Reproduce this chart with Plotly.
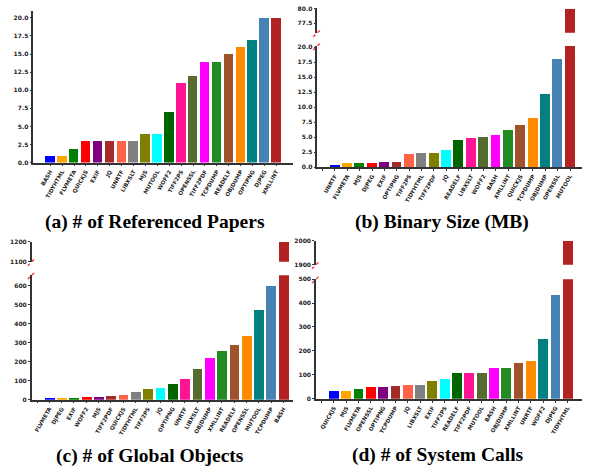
import plotly.graph_objects as go

# ---------------- data ----------------
colors = ["#0000FF", "#FFA500", "#008000", "#FF0000", "#800080", "#A52A2A",
          "#FF6347", "#808080", "#808000", "#00FFFF", "#006400", "#FF1493",
          "#556B2F", "#FF00FF", "#228B22", "#A0522D", "#FF8C00", "#008080",
          "#4682B4", "#B22222"]

names_a = ["BASH", "TIDYHTML", "FLVMETA", "QUICKJS", "EXIF", "JQ", "UNRTF", "LIBXSLT",
           "MJS", "MUTOOL", "WOFF2", "TIFF2PS", "OPENSSL", "TIFF2PDF", "TCPDUMP",
           "READELF", "OBJDUMP", "OPTIPNG", "DJPEG", "XMLLINT"]
vals_a = [1, 1, 2, 3, 3, 3, 3, 3, 4, 4, 7, 11, 12, 14, 14, 15, 16, 17, 20, 20]

names_b = ["UNRTF", "FLVMETA", "MJS", "DJPEG", "EXIF", "OPTIPNG", "TIFF2PS", "TIDYHTML",
           "TIFF2PDF", "JQ", "READELF", "LIBXSLT", "WOFF2", "BASH", "XMLLINT", "QUICKJS",
           "TCPDUMP", "OBJDUMP", "OPENSSL", "MUTOOL"]
vals_b = [0.4, 0.7, 0.7, 0.7, 0.9, 0.9, 2.1, 2.4, 2.4, 2.9, 4.5, 4.8, 5.0, 5.3, 6.2,
          7.0, 8.2, 12.1, 18.0, 80.0]

names_c = ["FLVMETA", "DJPEG", "EXIF", "WOFF2", "MJS", "TIFF2PDF", "QUICKJS", "TIDYHTML",
           "TIFF2PS", "JQ", "OPTIPNG", "UNRTF", "LIBXSLT", "OBJDUMP", "XMLLINT", "READELF",
           "OPENSSL", "MUTOOL", "TCPDUMP", "BASH"]
vals_c = [8, 8, 8, 12, 12, 18, 24, 40, 55, 60, 80, 106, 163, 220, 256, 287, 333, 472,
          596, 1200]

names_d = ["QUICKJS", "MJS", "FLVMETA", "OPENSSL", "OPTIPNG", "TCPDUMP", "JQ", "LIBXSLT",
           "EXIF", "TIFF2PS", "READELF", "TIFF2PDF", "MUTOOL", "BASH", "OBJDUMP", "XMLLINT",
           "UNRTF", "WOFF2", "DJPEG", "TIDYHTML"]
vals_d = [31, 31, 39, 47, 47, 51, 56, 56, 72, 80, 105, 105, 105, 126, 130, 147, 158,
          250, 435, 2000]

titles = ["(a) # of Referenced Papers", "(b) Binary Size (MB)",
          "(c) # of Global Objects", "(d) # of System Calls"]

yt_a = [0, 2.5, 5, 7.5, 10, 12.5, 15, 17.5, 20]
yt_b_low = [0, 2.5, 5, 7.5, 10, 12.5, 15, 17.5, 20]
yt_b_up = [77.5, 80]
yt_c_low = [0, 100, 200, 300, 400, 500, 600]
yt_c_up = [1100, 1200]
yt_d_low = [0, 100, 200, 300, 400, 500]
yt_d_up = [1900, 2000]

# ---------------- layout helpers ----------------
W, H = 590, 472
def dx(p): return p / W
def dy(p): return 1 - p / H

AX = "#333333"
ytickfont = dict(family="DejaVu Sans", size=6, color="#222222", weight="bold")
xtickfont = dict(family="DejaVu Sans", size=5.5, color="#222222", weight="bold")

fig = go.Figure()
pos = list(range(20))

def add_bars(vals, names, xa, ya):
    fig.add_trace(go.Bar(x=pos, y=vals, width=0.8, marker=dict(color=colors, line=dict(width=0)),
                         xaxis=xa, yaxis=ya, showlegend=False, hovertext=names))

def xaxis_def(domain, rng, anchor, names, extra):
    tv = ([-1] if extra else []) + pos
    tt = ([""] if extra else []) + names
    return dict(domain=domain, range=rng, anchor=anchor, tickmode="array", tickvals=tv,
                ticktext=tt, tickangle=-60, showline=True, linecolor=AX, linewidth=1.5,
                ticks="outside", ticklen=2, tickcolor=AX, tickfont=xtickfont,
                showgrid=False, zeroline=False, fixedrange=True)

def yaxis_def(domain, rng, anchor, tv, fmt):
    return dict(domain=domain, range=rng, anchor=anchor, tickmode="array", tickvals=tv,
                ticktext=[fmt.format(v) for v in tv], showline=True, linecolor=AX,
                linewidth=1.5, ticks="outside", ticklen=2, tickcolor=AX, tickfont=ytickfont,
                showgrid=False, zeroline=False, fixedrange=True)

# panel a
add_bars(vals_a, names_a, "x", "y")
# panel b (lower y2, upper y3 on x2)
add_bars(vals_b, names_b, "x2", "y2")
add_bars(vals_b, names_b, "x2", "y3")
# panel c
add_bars(vals_c, names_c, "x3", "y4")
add_bars(vals_c, names_c, "x3", "y5")
# panel d
add_bars(vals_d, names_d, "x4", "y6")
add_bars(vals_d, names_d, "x4", "y7")

layout = dict(
    width=W, height=H, margin=dict(l=0, r=0, t=0, b=0),
    paper_bgcolor="white", plot_bgcolor="white", bargap=0,
    xaxis=xaxis_def([dx(33.3), dx(293)], [-1.42, 20.4], "y", names_a, False),
    yaxis=yaxis_def([dy(161), dy(6.7)], [0, 21], "x", yt_a, "{:.1f}"),
    xaxis2=xaxis_def([dx(317.3), dx(582)], [-1.43, 19.97], "y2", names_b, True),
    yaxis2=yaxis_def([dy(165.5), dy(42.7)], [0, 20.16], "x2", yt_b_low, "{:.1f}"),
    yaxis3=yaxis_def([dy(29.3), dy(4.3)], [75.76, 80.12], "x2", yt_b_up, "{:.1f}"),
    xaxis3=xaxis_def([dx(31.7), dx(293.3)], [-1.43, 19.8], "y4", names_c, True),
    yaxis4=yaxis_def([dy(401.7), dy(275.3)], [0, 655], "x3", yt_c_low, "{:.0f}"),
    yaxis5=yaxis_def([dy(261.7), dy(241.5)], [1100, 1200], "x3", yt_c_up, "{:.0f}"),
    xaxis4=xaxis_def([dx(316), dx(582)], [-1.46, 20.16], "y6", names_d, True),
    yaxis6=yaxis_def([dy(400.7), dy(279.3)], [0, 500], "x4", yt_d_low, "{:.0f}"),
    yaxis7=yaxis_def([dy(264.7), dy(240.2)], [1899, 2001], "x4", yt_d_up, "{:.0f}"),
)
fig.update_layout(**layout)

# broken-axis markers
shapes = []
for (sx, ey) in [(317.3, 29.3), (317.3, 42.7), (31.7, 261.7), (31.7, 275.3),
                 (316, 264.7), (316, 279.3)]:
    shapes.append(dict(type="line", xref="paper", yref="paper",
                       x0=dx(sx - 4), y0=dy(ey + 4), x1=dx(sx + 4), y1=dy(ey - 4),
                       line=dict(color="rgba(255,0,0,0.85)", width=1.3, dash="dot")))
fig.update_layout(shapes=shapes)

# panel captions
for t, (cx, cy) in zip(titles, [(155, 221), (442, 221), (150, 459), (438, 458)]):
    fig.add_annotation(text=t, x=dx(cx), y=dy(cy), xref="paper", yref="paper",
                       xanchor="center", yanchor="middle", showarrow=False,
                       font=dict(family="Liberation Serif", size=19.5, color="black",
                                 weight="bold"))

# remove the default 8px page margin so the 590x472 figure fills the window
fig.write_html("out.html", config={"displayModeBar": False},
               post_script="document.body.style.margin='0';")
